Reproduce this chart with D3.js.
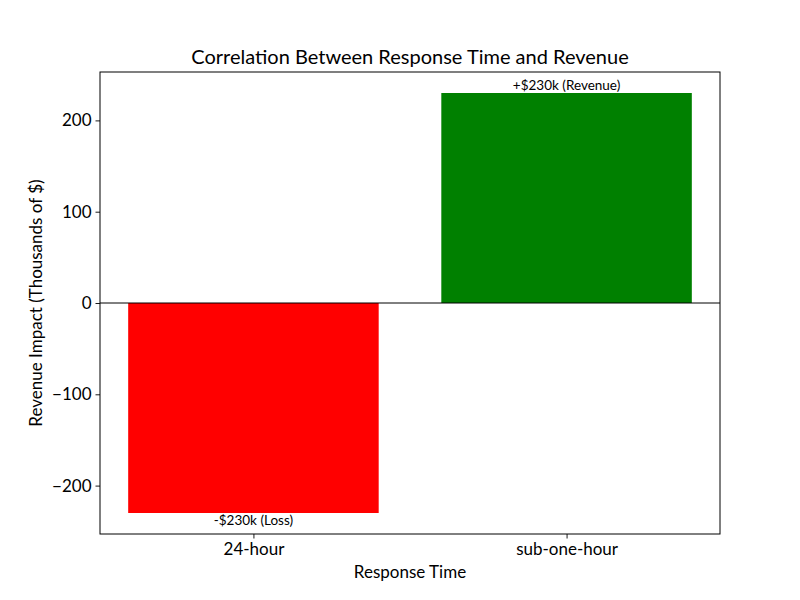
<!DOCTYPE html>
<html>
<head>
<meta charset="utf-8">
<script src="https://cdn.jsdelivr.net/npm/d3@7"></script>
<style>
  body { margin: 0; background: #fff; }
  text { font-family: Lato, "Open Sans", sans-serif; fill: #000; }
</style>
</head>
<body>
<script>
// chart data
const categories = ["24-hour", "sub-one-hour"];
const impacts = [-230, 230];
const barLabels = ["-$230k (Loss)", "+$230k (Revenue)"];
const barColors = ["red", "green"];
const yTicks = [-200, -100, 0, 100, 200];

const margin = {top: 72, right: 80, bottom: 66, left: 100}
, width = 800 - margin.left - margin.right
, height = 600 - margin.top - margin.bottom

const svg = d3.select("body").append("svg")
    .attr("width", 800)
    .attr("height", 600)

const g = svg.append("g")
    .attr("transform", `translate(${margin.left},${margin.top})`)

// matplotlib style: categories at 0,1, bars 0.8 wide, 5% margins
const x = d3.scaleLinear().domain([-0.49, 1.49]).range([0, width])
const y = d3.scaleLinear().domain([-253, 253]).range([height, 0])

g.selectAll("rect.bar")
    .data(impacts)
    .enter()
    .append("rect")
    .attr("class", "bar")
    .attr("x", (d, i) => x(i - 0.4))
    .attr("width", x(0.8) - x(0))
    .attr("y", d => y(Math.max(0, d)))
    .attr("height", d => Math.abs(y(d) - y(0)))
    .attr("fill", (d, i) => barColors[i])

// zero line
g.append("line")
    .attr("x1", 0).attr("x2", width)
    .attr("y1", y(0)).attr("y2", y(0))
    .attr("stroke", "black")
    .attr("stroke-width", 1)

// value labels
g.selectAll("text.lbl")
    .data(impacts)
    .enter()
    .append("text")
    .attr("class", "lbl")
    .attr("x", (d, i) => x(i))
    .attr("y", d => d >= 0 ? y(d) - 3 : y(d) + 12)
    .attr("text-anchor", "middle")
    .style("font-size", "13.5px")
    .text((d, i) => barLabels[i])

// axes
const yAxis = g.append("g")
    .call(d3.axisLeft(y).tickValues(yTicks).tickSize(4.5).tickPadding(4)
        .tickFormat(d => d < 0 ? "\u2212" + Math.abs(d) : d))
const xAxis = g.append("g")
    .attr("transform", `translate(0,${height})`)
    .call(d3.axisBottom(x).tickValues([0, 1]).tickSize(4.5).tickPadding(4)
        .tickFormat(i => categories[i]))

for (const a of [yAxis, xAxis]) {
    a.select(".domain").remove()
    a.selectAll("line").attr("stroke", "black").attr("stroke-width", 0.9)
    a.selectAll("text").style("font-size", "17px")
}

// frame
g.append("rect")
    .attr("width", width).attr("height", height)
    .attr("fill", "none").attr("stroke", "black").attr("stroke-width", 1)

// titles
svg.append("text")
    .attr("x", margin.left + width / 2).attr("y", 64)
    .attr("text-anchor", "middle")
    .style("font-size", "20px")
    .text("Correlation Between Response Time and Revenue")

svg.append("text")
    .attr("x", margin.left + width / 2).attr("y", 578)
    .attr("text-anchor", "middle")
    .style("font-size", "17px")
    .text("Response Time")

svg.append("text")
    .attr("transform", `translate(42,${margin.top + height / 2}) rotate(-90)`)
    .attr("text-anchor", "middle")
    .style("font-size", "17px")
    .text("Revenue Impact (Thousands of $)")
</script>
</body>
</html>
